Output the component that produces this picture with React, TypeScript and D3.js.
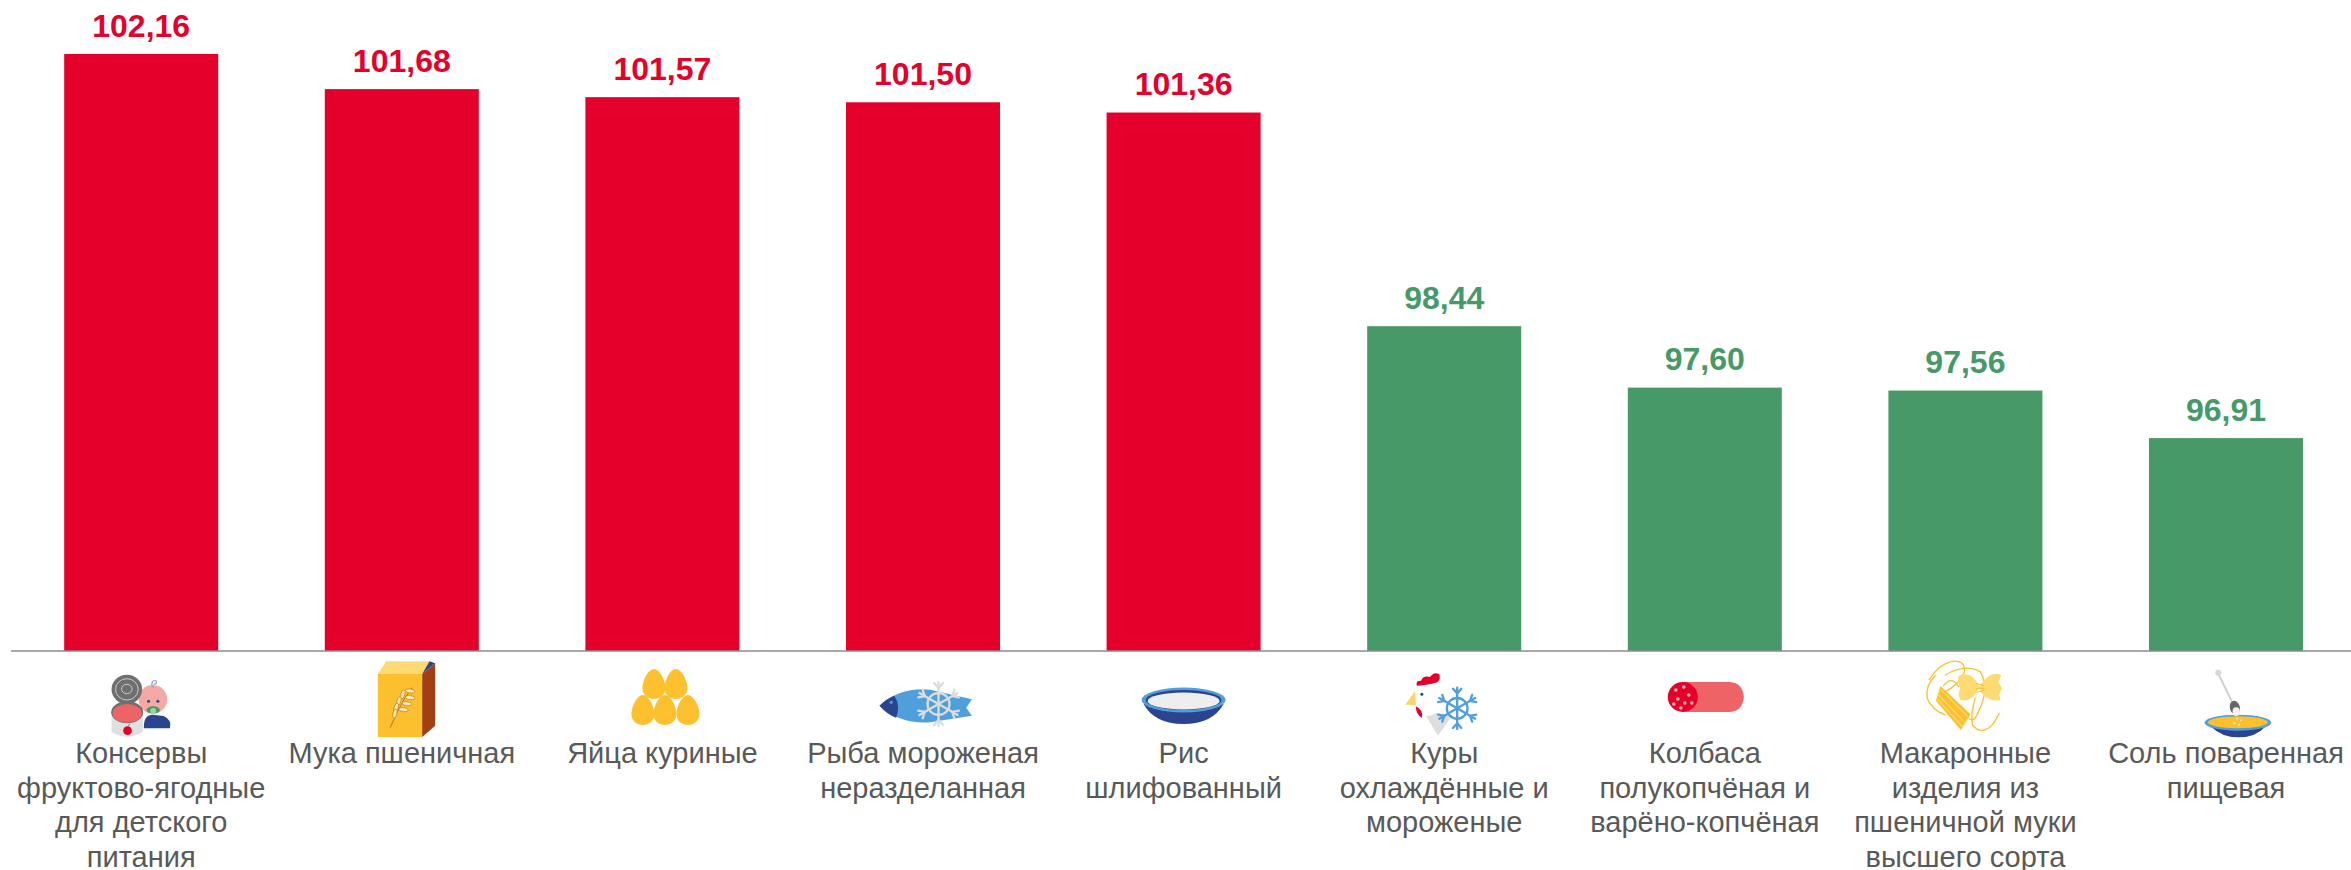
import React, { useMemo } from "react";
import * as d3 from "d3";

const categoryLines: string[][] = [
  ["Консервы", "фруктово-ягодные", "для детского", "питания"],
  ["Мука пшеничная"],
  ["Яйца куриные"],
  ["Рыба мороженая", "неразделанная"],
  ["Рис", "шлифованный"],
  ["Куры", "охлаждённые и", "мороженые"],
  ["Колбаса", "полукопчёная и", "варёно-копчёная"],
  ["Макаронные", "изделия из", "пшеничной муки", "высшего сорта"],
  ["Соль поваренная", "пищевая"],
];
const values = [102.16, 101.68, 101.57, 101.5, 101.36, 98.44, 97.6, 97.56, 96.91];
const valueLabels = ["102,16", "101,68", "101,57", "101,50", "101,36", "98,44", "97,60", "97,56", "96,91"];

const W = 2351;
const H = 870;
const RED = "#E4002B";
const GREEN = "#479A68";
const FONT = "'Liberation Sans', Arial, sans-serif";

function Snowflake({ cx, cy, r, color, sw }: { cx: number; cy: number; r: number; color: string; sw: number }) {
  const arms = d3.range(6).map((i) => i * 60 + 90);
  return (
    <g transform={`translate(${cx},${cy})`} stroke={color} strokeWidth={sw} fill="none" strokeLinecap="round">
      <circle r={r * 0.5} />
      {arms.map((a) => (
        <g key={a} transform={`rotate(${a})`}>
          <line x1={0} y1={0} x2={r} y2={0} />
          <polyline points={`${r * 0.95},${-r * 0.2} ${r * 0.72},0 ${r * 0.95},${r * 0.2}`} />
        </g>
      ))}
    </g>
  );
}

function IconCan() {
  return (
    <g transform="translate(-46,660) scale(0.3333)">
      <path d="M146,200 Q146,160 180,165 L205,168 Q232,180 224,205 L146,205Z" fill="#2b4490" />
      <circle cx="173" cy="118" r="43" fill="#f4a9a5" />
      <circle cx="160" cy="124" r="4.5" fill="#2b4490" />
      <circle cx="188" cy="124" r="4.5" fill="#2b4490" />
      <ellipse cx="174" cy="150" rx="20" ry="11" fill="#3f9b5e" />
      <circle cx="174" cy="153" r="9" fill="#9fcfa8" />
      <path d="M176,83 Q166,75 172,65 Q180,56 184,66 Q184,74 175,72" fill="none" stroke="#8a9ccc" strokeWidth="3.5" />
      <ellipse cx="95" cy="88" rx="46" ry="44" fill="#6f6f6f" />
      <ellipse cx="95" cy="88" rx="34" ry="32" fill="none" stroke="#c9c9c9" strokeWidth="3" />
      <ellipse cx="95" cy="87" rx="16" ry="14" fill="none" stroke="#c9c9c9" strokeWidth="3" />
      <path d="M49,155 L49,215 Q95,245 143,215 L143,155Z" fill="#e0e0e0" />
      <ellipse cx="96" cy="157" rx="48" ry="33" fill="#6f6f6f" />
      <ellipse cx="96" cy="160" rx="44" ry="28" fill="#ee6466" />
      <circle cx="97" cy="212" r="13" fill="#E4002B" />
      <path d="M98,200 L104,191" stroke="#3f9b5e" strokeWidth="2.5" />
    </g>
  );
}

function IconFlour() {
  return (
    <g transform="translate(-41.6,655) scale(0.3333)">
      <path d="M53,57 L186,57 L186,246 L53,246Z" fill="#fcc02e" />
      <path d="M53,57 L78,19 L208,19 L186,57Z" fill="#fedb72" />
      <path d="M186,57 L208,19 L225,25Z" fill="#2b4490" />
      <path d="M186,57 L225,25 L225,212 L186,246Z" fill="#a23f13" />
      <path d="M90,218 L112,170 Q130,130 156,98" fill="none" stroke="#b9751f" strokeWidth="3" />
      {[[150, 108], [128, 118], [150, 128], [116, 138], [140, 146], [108, 158], [130, 164], [104, 176]].map(([x, y], i) => (
        <ellipse key={i} cx={x} cy={y} rx="14" ry="6" fill="#fdeab0" stroke="#b9751f" strokeWidth="2"
          transform={`rotate(${i % 2 ? -75 : 5} ${x} ${y})`} />
      ))}
    </g>
  );
}

function IconEggs() {
  const egg = "M0,-15 C6,-15 11.5,-3 11.5,4 C11.5,11 6,15 0,15 C-6,15 -11.5,11 -11.5,4 C-11.5,-3 -6,-15 0,-15Z";
  const pts = [[-8.5, 684], [13.5, 684], [-19.5, 710], [2.5, 710], [25.5, 710]];
  return (
    <g>
      {pts.map(([x, y], i) => (
        <path key={i} d={egg} transform={`translate(${x},${y})`} fill="#fdc02f" />
      ))}
    </g>
  );
}

function IconFish() {
  return (
    <g transform="translate(-52.8,665) scale(0.3333)">
      <path d="M28,122 Q90,66 180,74 L305,103 L288,128 L305,152 L180,172 Q90,178 28,122Z" fill="#4f9fdc" />
      <path d="M28,122 Q50,100 72,92 Q92,120 78,158 Q50,148 28,122Z" fill="#2b4490" />
      <circle cx="63" cy="112" r="5" fill="#4f9fdc" />
      <Snowflake cx={205} cy={117} r={66} color="#dcdcdc" sw={7} />
    </g>
  );
}

function IconRice() {
  return (
    <g transform="translate(-43,0)">
      <path d="M3,704 Q14,724 43,724 Q72,724 83,704 Z" fill="#2b4490" />
      <ellipse cx="43" cy="700" rx="42" ry="12.5" fill="#4f9fdc" />
      <ellipse cx="43" cy="700" rx="38" ry="10" fill="#2b4490" />
      <ellipse cx="43" cy="701" rx="36" ry="8.5" fill="#eeeeee" />
    </g>
  );
}

function IconChicken() {
  return (
    <g transform="translate(-49,665) scale(0.3333)">
      <path d="M85,140 L172,150 L128,212Z" fill="#dedede" />
      <path d="M65,62 Q60,46 78,47 Q84,30 104,36 Q118,18 132,28 Q138,42 126,52 Q100,60 65,62Z" fill="#E4002B" />
      <ellipse cx="97" cy="107" rx="40" ry="46" fill="#ffffff" />
      <path d="M60,78 L30,119 L62,120Z" fill="#fed466" />
      <path d="M62,124 Q86,136 80,158 Q62,150 62,124Z" fill="#E4002B" />
      <circle cx="80" cy="88" r="4.5" fill="#2b4490" />
      <Snowflake cx={186} cy={130} r={62} color="#4f9fdc" sw={7} />
    </g>
  );
}

function IconSausage() {
  const dots = [[-29, 690], [-21, 687], [-16, 695], [-27, 699], [-20, 703], [-31, 704], [-13, 703], [-24, 708]];
  return (
    <g>
      <path d="M-22,682 L25,682 Q38,683 39,697 Q38,711 25,712 L-22,712Z" fill="#ee6466" />
      <ellipse cx="-22" cy="697" rx="15" ry="15" fill="#E4002B" />
      {dots.map(([x, y], i) => (
        <circle key={i} cx={x} cy={y} r="1.8" fill="#f7b4b4" />
      ))}
    </g>
  );
}

function IconPasta() {
  return (
    <g transform="translate(-50.2,655) scale(0.3333)">
      <g fill="none" stroke="#fcc02e" strokeWidth="4" strokeLinecap="round">
        <path d="M42,74 Q70,28 110,19 Q150,14 148,50 Q130,90 90,110" />
        <path d="M60,62 Q30,90 36,130 Q50,165 90,180" />
        <path d="M90,60 Q150,25 195,50 Q225,100 190,170 Q175,205 162,190" />
        <path d="M130,95 Q110,60 85,92" />
        <path d="M180,130 Q165,180 172,210 Q200,245 235,205 L252,175" />
      </g>
      <path d="M130,62 Q170,45 192,95 Q225,45 258,60 L250,80 L260,100 L252,118 L256,135 Q215,145 190,100 Q170,145 135,135 L130,118 L135,100 L128,80Z" fill="#fedb72" />
      <path d="M182,85 L208,92 M182,100 L208,100 M184,112 L208,106" stroke="#fcc02e" strokeWidth="3" />
      <path d="M76,93 L166,178 L137,225 L62,137Z" fill="#fcc02e" />
      <path d="M78,105 L158,185 M70,120 L150,203 M68,133 L142,216" stroke="#fedb72" strokeWidth="4" />
    </g>
  );
}

function IconSoup() {
  return (
    <g transform="translate(-40.8,660) scale(0.3333)">
      <path d="M78,200 Q110,232 160,232 Q212,232 240,200Z" fill="#2b4490" />
      <ellipse cx="158" cy="188" rx="100" ry="24" fill="#4f9fdc" />
      <ellipse cx="158" cy="187" rx="90" ry="18" fill="#fcc02e" />
      <path d="M99,40 L140,125" stroke="#cfcfcf" strokeWidth="6" strokeLinecap="round" />
      <circle cx="99" cy="38" r="9" fill="#d8d8d8" />
      <ellipse cx="149" cy="143" rx="15" ry="21" fill="#666666" transform="rotate(-15 149 143)" />
      <ellipse cx="153" cy="155" rx="11" ry="13" fill="#f2f2f2" />
      <circle cx="148" cy="190" r="3" fill="#fff3cf" />
      <circle cx="162" cy="194" r="3" fill="#fff3cf" />
      <circle cx="167" cy="181" r="2.5" fill="#fff3cf" />
      <circle cx="155" cy="176" r="2.5" fill="#fff3cf" />
    </g>
  );
}

const icons = [IconCan, IconFlour, IconEggs, IconFish, IconRice, IconChicken, IconSausage, IconPasta, IconSoup];

export default function App() {
  const x = useMemo(
    () => d3.scaleBand<number>().domain(d3.range(values.length)).range([10.9, 2356.3]).paddingInner(0.409).paddingOuter(0.2045),
    []
  );
  const y = useMemo(() => d3.scaleLinear().domain([94, 102.16]).range([651, 54]), []);
  return (
    <svg width={W} height={H} viewBox={`0 0 ${W} ${H}`} style={{ position: "absolute", left: 0, top: 0, display: "block" }} fontFamily={FONT}>
      <rect width={W} height={H} fill="#ffffff" />
      {values.map((v, i) => {
        const color = v >= 100 ? RED : GREEN;
        return (
          <g key={i}>
            <rect x={x(i)!} y={y(v)} width={x.bandwidth()} height={y(94) - y(v)} fill={color} />
            <text x={x(i)! + x.bandwidth() / 2} y={y(v) - 17.5} textAnchor="middle" fontSize={32} fontWeight={700} fill={color}>
              {valueLabels[i]}
            </text>
          </g>
        );
      })}
      <line x1={11} x2={W} y1={651} y2={651} stroke="#8c8c8c" strokeWidth={1.5} />
      {categoryLines.map((lines, i) => {
        const Icon = icons[i];
        const cx = x(i)! + x.bandwidth() / 2;
        return (
          <g key={i} transform={`translate(${cx},0)`}>
            <Icon />
            <text textAnchor="middle" fontSize={29} fill="#595959">
              {lines.map((l, j) => (
                <tspan key={j} x={0} y={763 + j * 34.5}>
                  {l}
                </tspan>
              ))}
            </text>
          </g>
        );
      })}
    </svg>
  );
}
